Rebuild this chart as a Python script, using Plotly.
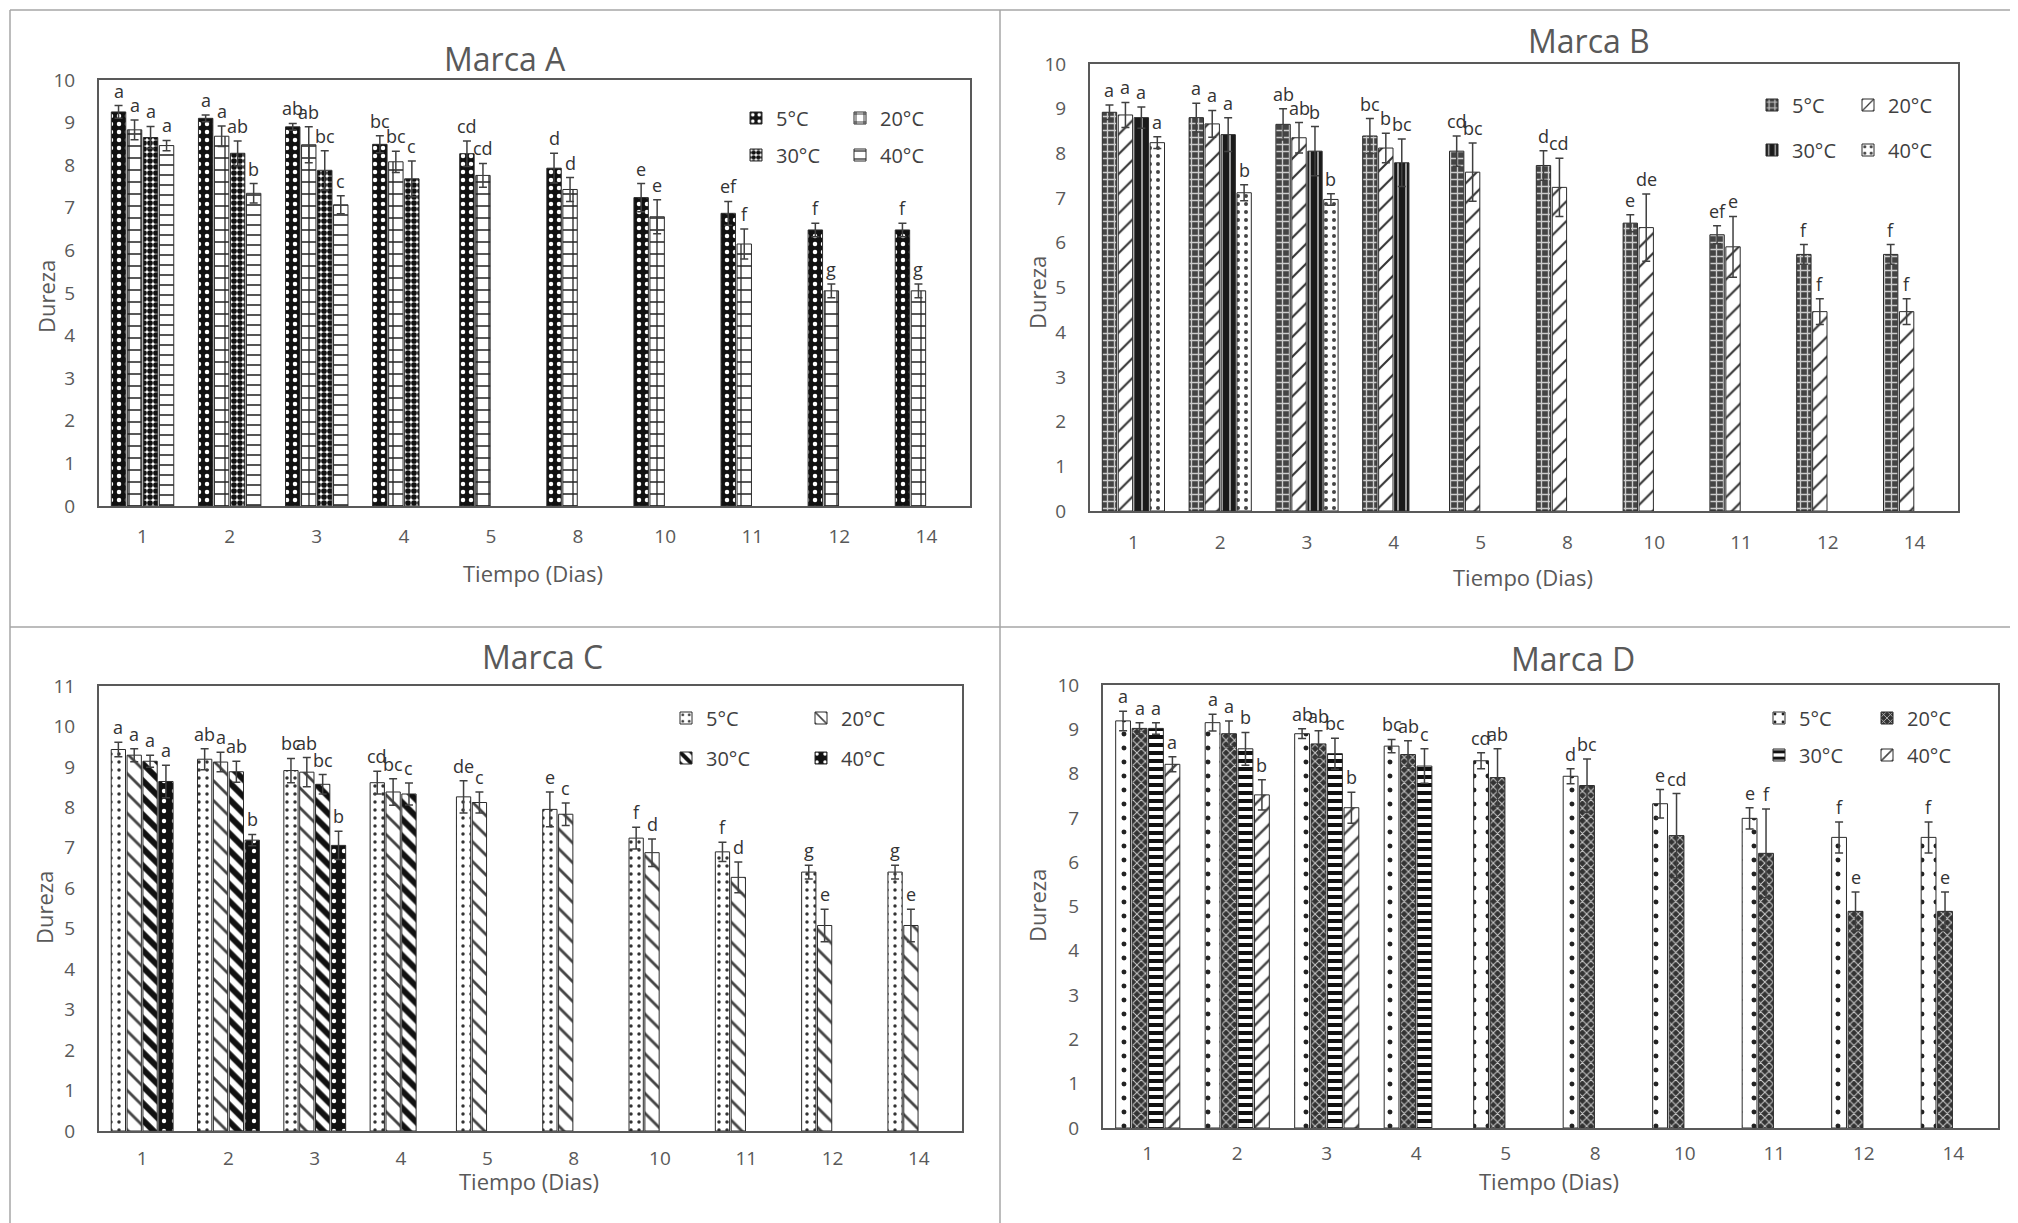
import plotly.graph_objects as go

# page body has an 8px margin, so the figure is sized/offset to compensate
OFF = 8
W, H = 2018 - OFF, 1223 - OFF

days = ["1", "2", "3", "4", "5", "8", "10", "11", "12", "14"]
temps = ["5°C", "20°C", "30°C", "40°C"]

# ---------------- Marca A ----------------
a_5 = [9.25, 9.10, 8.90, 8.49, 8.27, 7.93, 7.24, 6.87, 6.48, 6.48]
a_20 = [8.83, 8.68, 8.48, 8.08, 7.76, 7.43, 6.79, 6.15, 5.05, 5.05]
a_30 = [8.65, 8.28, 7.88, 7.68, None, None, None, None, None, None]
a_40 = [8.46, 7.34, 7.07, None, None, None, None, None, None, None]
a_5_err = [0.15, 0.08, 0.08, 0.20, 0.30, 0.35, 0.33, 0.28, 0.16, 0.16]
a_20_err = [0.23, 0.24, 0.42, 0.25, 0.28, 0.28, 0.40, 0.35, 0.16, 0.16]
a_30_err = [0.26, 0.29, 0.46, 0.42, None, None, None, None, None, None]
a_40_err = [0.12, 0.23, 0.21, None, None, None, None, None, None, None]
a_5_let = ["a", "a", "ab", "bc", "cd", "d", "e", "ef", "f", "f"]
a_20_let = ["a", "a", "ab", "bc", "cd", "d", "e", "f", "g", "g"]
a_30_let = ["a", "ab", "bc", "c", "", "", "", "", "", ""]
a_40_let = ["a", "b", "c", "", "", "", "", "", "", ""]

# ---------------- Marca B ----------------
b_5 = [8.92, 8.80, 8.65, 8.39, 8.05, 7.73, 6.44, 6.18, 5.74, 5.74]
b_20 = [8.86, 8.66, 8.35, 8.12, 7.58, 7.24, 6.34, 5.91, 4.46, 4.46]
b_30 = [8.80, 8.42, 8.05, 7.79, None, None, None, None, None, None]
b_40 = [8.24, 7.12, 6.97, None, None, None, None, None, None, None]
b_5_err = [0.16, 0.32, 0.35, 0.39, 0.34, 0.33, 0.19, 0.20, 0.22, 0.22]
b_20_err = [0.28, 0.30, 0.34, 0.33, 0.65, 0.65, 0.75, 0.68, 0.29, 0.29]
b_30_err = [0.24, 0.38, 0.55, 0.53, None, None, None, None, None, None]
b_40_err = [0.13, 0.18, 0.13, None, None, None, None, None, None, None]
b_5_let = ["a", "a", "ab", "bc", "cd", "d", "e", "ef", "f", "f"]
b_20_let = ["a", "a", "ab", "b", "bc", "cd", "de", "e", "f", "f"]
b_30_let = ["a", "a", "b", "bc", "", "", "", "", "", ""]
b_40_let = ["a", "b", "b", "", "", "", "", "", "", ""]

# ---------------- Marca C ----------------
c_5 = [9.43, 9.19, 8.91, 8.61, 8.26, 7.95, 7.24, 6.90, 6.40, 6.40]
c_20 = [9.29, 9.12, 8.87, 8.38, 8.12, 7.83, 6.88, 6.27, 5.08, 5.08]
c_30 = [9.14, 8.88, 8.57, 8.33, None, None, None, None, None, None]
c_40 = [8.64, 7.19, 7.06, None, None, None, None, None, None, None]
c_5_err = [0.18, 0.26, 0.30, 0.28, 0.40, 0.43, 0.27, 0.24, 0.17, 0.17]
c_20_err = [0.16, 0.24, 0.36, 0.33, 0.26, 0.28, 0.34, 0.38, 0.40, 0.40]
c_30_err = [0.15, 0.26, 0.24, 0.27, None, None, None, None, None, None]
c_40_err = [0.40, 0.14, 0.35, None, None, None, None, None, None, None]
c_5_let = ["a", "ab", "bc", "cd", "de", "e", "f", "f", "g", "g"]
c_20_let = ["a", "a", "ab", "bc", "c", "c", "d", "d", "e", "e"]
c_30_let = ["a", "ab", "bc", "c", "", "", "", "", "", ""]
c_40_let = ["a", "b", "b", "", "", "", "", "", "", ""]

# ---------------- Marca D ----------------
d_5 = [9.19, 9.15, 8.90, 8.62, 8.29, 7.94, 7.32, 6.99, 6.56, 6.56]
d_20 = [9.02, 8.90, 8.67, 8.43, 7.91, 7.73, 6.60, 6.20, 4.89, 4.89]
d_30 = [9.02, 8.56, 8.45, 8.17, None, None, None, None, None, None]
d_40 = [8.21, 7.52, 7.23, None, None, None, None, None, None, None]
d_5_err = [0.22, 0.19, 0.11, 0.15, 0.18, 0.17, 0.32, 0.24, 0.35, 0.35]
d_20_err = [0.13, 0.29, 0.30, 0.31, 0.65, 0.60, 0.95, 1.00, 0.44, 0.44]
d_30_err = [0.13, 0.37, 0.35, 0.39, None, None, None, None, None, None]
d_40_err = [0.17, 0.34, 0.35, None, None, None, None, None, None, None]
d_5_let = ["a", "a", "ab", "bc", "cd", "d", "e", "e", "f", "f"]
d_20_let = ["a", "a", "ab", "ab", "ab", "bc", "cd", "f", "e", "e"]
d_30_let = ["a", "b", "bc", "c", "", "", "", "", "", ""]
d_40_let = ["a", "b", "b", "", "", "", "", "", "", ""]

FONT = "Open Sans"
GRAY = "#595959"
DARK = "#333333"

BARGAP = 0.265
SLOT = (1 - BARGAP) / 4


def X(px):
    return (px - OFF) / W


def Y(py):
    return 1 - (py - OFF) / H


STYLES = {
    "A": [
        dict(shape=".", bgcolor="#111111", fgcolor="#ffffff", size=8, solidity=0.25),
        dict(shape="+", bgcolor="#ffffff", fgcolor="#222222", size=12, solidity=0.2),
        dict(shape=".", bgcolor="#ffffff", fgcolor="#111111", size=6, solidity=0.7),
        dict(shape="-", bgcolor="#ffffff", fgcolor="#555555", size=10, solidity=0.2),
    ],
    "B": [
        dict(shape="+", bgcolor="#444444", fgcolor="#cccccc", size=7, solidity=0.35),
        dict(shape="/", bgcolor="#ffffff", fgcolor="#333333", size=14, solidity=0.15),
        dict(shape="|", bgcolor="#1a1a1a", fgcolor="#bbbbbb", size=8, solidity=0.2),
        dict(shape=".", bgcolor="#ffffff", fgcolor="#444444", size=8, solidity=0.2),
    ],
    "C": [
        dict(shape=".", bgcolor="#ffffff", fgcolor="#333333", size=8, solidity=0.15),
        dict(shape="\\", bgcolor="#ffffff", fgcolor="#444444", size=14, solidity=0.2),
        dict(shape="\\", bgcolor="#ffffff", fgcolor="#111111", size=12, solidity=0.5),
        dict(shape=".", bgcolor="#111111", fgcolor="#ffffff", size=10, solidity=0.15),
    ],
    "D": [
        dict(shape=".", bgcolor="#ffffff", fgcolor="#222222", size=14, solidity=0.1),
        dict(shape="x", bgcolor="#333333", fgcolor="#cccccc", size=6, solidity=0.3),
        dict(shape="-", bgcolor="#ffffff", fgcolor="#111111", size=8, solidity=0.5),
        dict(shape="/", bgcolor="#ffffff", fgcolor="#444444", size=12, solidity=0.2),
    ],
}

panels = [
    dict(key="A", title="Marca A", ax="", vals=[a_5, a_20, a_30, a_40],
         errs=[a_5_err, a_20_err, a_30_err, a_40_err],
         lets=[a_5_let, a_20_let, a_30_let, a_40_let],
         frame=(99, 970, 80, 506), ymax=10, xstand=12,
         title_xy=(505, 58), ylab_xy=(46, 297), xlab_xy=(533, 573),
         leg=(736, 118, 155, 59)),
    dict(key="B", title="Marca B", ax="2", vals=[b_5, b_20, b_30, b_40],
         errs=[b_5_err, b_20_err, b_30_err, b_40_err],
         lets=[b_5_let, b_20_let, b_30_let, b_40_let],
         frame=(1090, 1958, 64, 511), ymax=10, xstand=13,
         title_xy=(1589, 40), ylab_xy=(1037, 293), xlab_xy=(1523, 577),
         leg=(1752, 105, 150, 51)),
    dict(key="C", title="Marca C", ax="3", vals=[c_5, c_20, c_30, c_40],
         errs=[c_5_err, c_20_err, c_30_err, c_40_err],
         lets=[c_5_let, c_20_let, c_30_let, c_40_let],
         frame=(99, 962, 686, 1131), ymax=11, xstand=9,
         title_xy=(542, 656), ylab_xy=(44, 908), xlab_xy=(529, 1181),
         leg=(666, 718, 758, 90)),
    dict(key="D", title="Marca D", ax="4", vals=[d_5, d_20, d_30, d_40],
         errs=[d_5_err, d_20_err, d_30_err, d_40_err],
         lets=[d_5_let, d_20_let, d_30_let, d_40_let],
         frame=(1103, 1998, 685, 1128), ymax=10, xstand=7,
         title_xy=(1573, 658), ylab_xy=(1037, 906), xlab_xy=(1549, 1181),
         leg=(1759, 718, 755, 63)),
]

fig = go.Figure()
annotations = []
layout_extra = {}
leg_counter = 0

for p in panels:
    ax = p["ax"]
    xref, yref = "x" + ax, "y" + ax
    leg_row1 = "legend" if leg_counter == 0 else "legend%d" % (leg_counter + 1)
    leg_row2 = "legend%d" % (leg_counter + 2)
    leg_counter += 2
    for k in range(4):
        st = STYLES[p["key"]][k]
        fig.add_trace(go.Bar(
            x=days, y=p["vals"][k], name=temps[k],
            xaxis=xref, yaxis=yref,
            legend=leg_row1 if k < 2 else leg_row2,
            marker=dict(color=st["bgcolor"], line=dict(color="#2b2b2b", width=1),
                        pattern=dict(shape=st["shape"], bgcolor=st["bgcolor"],
                                     fgcolor=st["fgcolor"], size=st["size"],
                                     solidity=st["solidity"], fillmode="replace")),
            error_y=dict(type="data", array=p["errs"][k], visible=True,
                         color="#404040", thickness=1.5, width=4),
        ))
        # significance letters above error bars
        for i, lt in enumerate(p["lets"][k]):
            v = p["vals"][k][i]
            if not lt or v is None:
                continue
            e = p["errs"][k][i] or 0
            annotations.append(dict(
                x=i + (k - 1.5) * SLOT, y=v + e, xref=xref, yref=yref,
                text=lt, showarrow=False, xanchor="center", yanchor="bottom", yshift=1,
                font=dict(family=FONT, size=18, color=DARK)))

    x0, x1, ytop, ybot = p["frame"]
    axname = "xaxis" + ax
    ayname = "yaxis" + ax
    layout_extra[axname] = dict(
        domain=[X(x0), X(x1)], anchor=yref, type="category", automargin=False,
        range=[-0.5, len(days) - 0.5], showgrid=False, zeroline=False,
        showline=True, mirror=True, linecolor=GRAY, linewidth=2,
        ticks="", tickfont=dict(family=FONT, size=19, color=GRAY),
        ticklabelstandoff=p["xstand"])
    layout_extra[ayname] = dict(
        domain=[Y(ybot), Y(ytop)], anchor=xref, range=[0, p["ymax"]], automargin=False,
        dtick=1, showgrid=False, zeroline=False,
        showline=True, mirror=True, linecolor=GRAY, linewidth=2,
        ticks="", tickfont=dict(family=FONT, size=19, color=GRAY),
        ticklabelstandoff=18)

    tx, ty = p["title_xy"]
    annotations.append(dict(x=X(tx), y=Y(ty), xref="paper", yref="paper",
                            xanchor="center", yanchor="middle",
                            text=p["title"], showarrow=False,
                            font=dict(family=FONT, size=32, color=GRAY)))
    lx, ly = p["ylab_xy"]
    annotations.append(dict(x=X(lx), y=Y(ly), xref="paper", yref="paper",
                            xanchor="center", yanchor="middle",
                            text="Dureza", textangle=-90, showarrow=False,
                            font=dict(family=FONT, size=22, color=GRAY)))
    bx, by = p["xlab_xy"]
    annotations.append(dict(x=X(bx), y=Y(by), xref="paper", yref="paper",
                            xanchor="center", yanchor="middle",
                            text="Tiempo (Dias)", showarrow=False,
                            font=dict(family=FONT, size=22, color=GRAY)))

    gx, gy1, gy2, ew = p["leg"]
    for name, gy in ((leg_row1, gy1), (leg_row2, gy2)):
        layout_extra[name] = dict(
            x=X(gx), y=Y(gy), xanchor="left", yanchor="middle",
            orientation="h", bgcolor="rgba(0,0,0,0)", borderwidth=0,
            entrywidth=ew, itemwidth=30, tracegroupgap=0,
            font=dict(family=FONT, size=20, color="#404040"))

BORDER = dict(color="#a6a6a6", width=1.5)
shapes = [
    dict(type="line", xref="paper", yref="paper", x0=X(10), x1=X(10), y0=Y(10), y1=0, line=BORDER),
    dict(type="line", xref="paper", yref="paper", x0=X(10), x1=1, y0=Y(10), y1=Y(10), line=BORDER),
    dict(type="line", xref="paper", yref="paper", x0=X(1000), x1=X(1000), y0=Y(10), y1=0, line=BORDER),
    dict(type="line", xref="paper", yref="paper", x0=X(10), x1=1, y0=Y(627), y1=Y(627), line=BORDER),
]

fig.update_layout(
    width=W, height=H, margin=dict(l=0, r=0, t=0, b=0, autoexpand=False),
    paper_bgcolor="white", plot_bgcolor="white",
    barmode="group", bargap=BARGAP, bargroupgap=0.1,
    showlegend=True, annotations=annotations, shapes=shapes,
    font=dict(family=FONT, color=GRAY),
    **layout_extra,
)

fig.write_html("out.html")
